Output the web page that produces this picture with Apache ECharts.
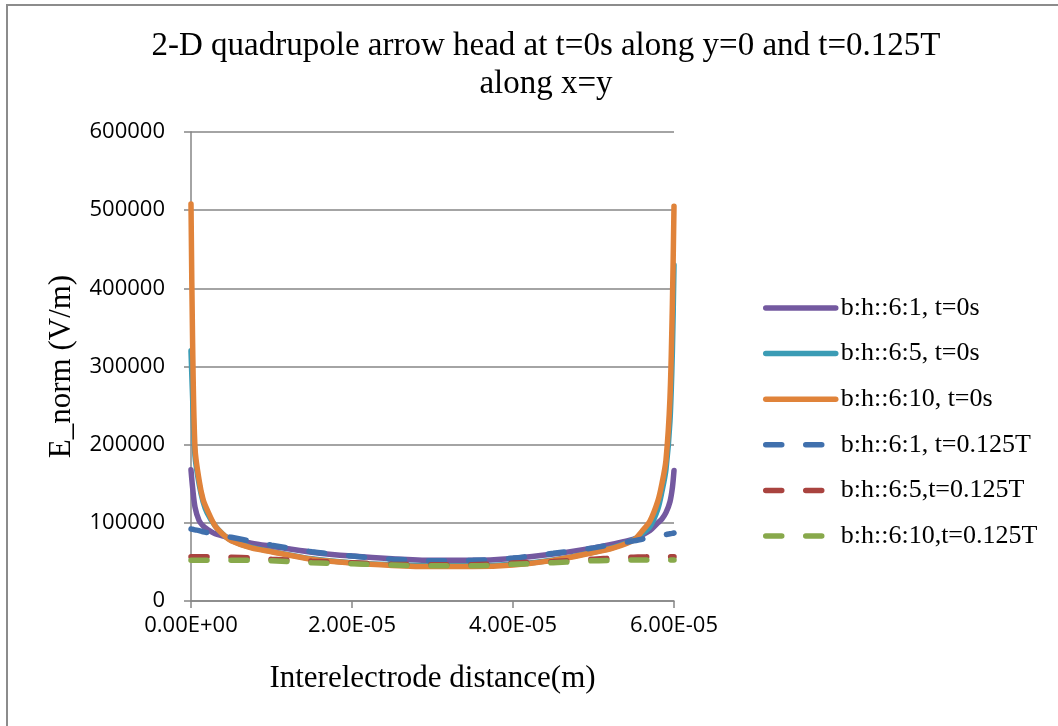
<!DOCTYPE html>
<html>
<head>
<meta charset="utf-8">
<title>2-D quadrupole arrow head</title>
<script src="https://cdn.jsdelivr.net/npm/echarts@6/dist/echarts.min.js"></script>
<style>
  html, body { margin: 0; padding: 0; background: #fff; }
  #chart { width: 1058px; height: 726px; }
</style>
</head>
<body>
<div id="chart"></div>
<script>
// Interelectrode distance (m)
const distance = [0, 2e-7, 5e-7, 1e-6, 1.5e-6, 2e-6, 3e-6, 4e-6, 5e-6, 7.5e-6,
  1e-5, 1.5e-5, 2e-5, 2.5e-5, 3e-5, 3.5e-5, 4e-5, 4.5e-5, 5e-5, 5.25e-5,
  5.5e-5, 5.6e-5, 5.7e-5, 5.8e-5, 5.85e-5, 5.9e-5, 5.95e-5, 5.98e-5, 6e-5];

// E_norm (V/m), t = 0s along y = 0
const e61_t0 = [168000, 145000, 120000, 103000, 96000, 92000, 86000, 83000, 80000, 74000,
  70000, 62500, 57500, 54000, 52000, 52000, 54500, 60000, 68000, 73000,
  79000, 84000, 90000, 100000, 105000, 113000, 127000, 145000, 167000];
const e65_t0 = [320000, 260000, 185000, 150000, 127000, 113000, 96000, 85000, 77500, 68500,
  63500, 54000, 49000, 46500, 45000, 45000, 47000, 52500, 62500, 68500,
  78500, 86000, 95000, 118000, 140000, 168000, 230000, 320000, 430000];
const e610_t0 = [508000, 330000, 195000, 155000, 130000, 117000, 96000, 85000, 77000, 68000,
  63000, 53500, 48500, 45500, 44000, 44000, 46000, 52000, 62000, 68000,
  78000, 89000, 102000, 128000, 150000, 180000, 260000, 380000, 505000];

// E_norm (V/m), t = 0.125T along x = y
const e61_t125 = [92000, 91700, 91000, 90000, 88500, 87500, 86000, 83500, 81500, 76500,
  71500, 63000, 57500, 53500, 51500, 52000, 55000, 61000, 68000, 72500,
  77000, 79000, 81000, 83000, 84000, 85000, 86000, 86500, 87000];
const e65_t125 = [56500, 56500, 56500, 56500, 56500, 56500, 56400, 56300, 56000, 55000,
  53500, 51000, 49000, 47000, 46500, 46500, 48500, 50500, 53500, 55000,
  56000, 56300, 56500, 56500, 56500, 56500, 56500, 56500, 56500];
const e610_t125 = [52000, 52000, 52000, 52000, 52000, 52000, 52000, 52000, 52000, 52000,
  51500, 49000, 47500, 46000, 45000, 45000, 47000, 49000, 51500, 52000,
  52500, 52500, 52500, 52500, 52500, 52500, 52500, 52500, 52500];

const seriesNames = ['b:h::6:1, t=0s', 'b:h::6:5, t=0s', 'b:h::6:10, t=0s',
  'b:h::6:1, t=0.125T', 'b:h::6:5,t=0.125T', 'b:h::6:10,t=0.125T'];
const seriesValues = [e61_t0, e65_t0, e610_t0, e61_t125, e65_t125, e610_t125];
const seriesColors = ['#7459A0', '#3B9CB5', '#E0833A', '#4070AD', '#A9433F', '#88A94B'];
const seriesDashed = [false, false, false, true, true, true];

const xTickLabels = ['0.00E+00', '2.00E-05', '4.00E-05', '6.00E-05'];
const xStep = 2e-5;

const serif = '"Liberation Serif", "Times New Roman", serif';
const sans = '"Open Sans", "Liberation Sans", sans-serif';
const axisGray = '#868686';
const curveWidth = 5.5;

const series = seriesNames.map((name, i) => ({
  name: name,
  type: 'line',
  data: distance.map((x, k) => [x, seriesValues[i][k]]),
  symbol: 'none',
  smooth: 0.3,
  lineStyle: {
    color: seriesColors[i],
    width: curveWidth,
    type: seriesDashed[i] ? [16, 24] : 'solid',
    cap: 'round'
  },
  itemStyle: { color: seriesColors[i] }
}));

const chart = echarts.init(document.getElementById('chart'), null, { renderer: 'canvas' });
chart.setOption({
  animation: false,
  backgroundColor: '#fff',
  title: {
    text: '2-D quadrupole arrow head at t=0s along y=0 and t=0.125T\nalong x=y',
    left: 541,
    top: 22,
    textAlign: 'center',
    textStyle: { fontFamily: serif, fontSize: 33, fontWeight: 'normal', color: '#000', lineHeight: 38 }
  },
  graphic: [{
    type: 'rect',
    shape: { x: 7, y: 5, width: 1100, height: 760 },
    style: { fill: null, stroke: '#8C8C8C', lineWidth: 2 },
    silent: true,
    z: -1
  }],
  legend: {
    orient: 'vertical',
    left: 758,
    top: 290,
    itemWidth: 70,
    itemHeight: 14,
    itemGap: 19.6,
    data: seriesNames,
    lineStyle: { width: curveWidth },
    itemStyle: { opacity: 0 },
    textStyle: { fontFamily: serif, fontSize: 26, color: '#000' }
  },
  grid: { left: 191, right: 384, top: 132, bottom: 125, containLabel: false },
  xAxis: {
    type: 'value',
    min: 0,
    max: 6e-5,
    interval: xStep,
    name: 'Interelectrode distance(m)',
    nameLocation: 'middle',
    nameGap: 62,
    nameTextStyle: { fontFamily: serif, fontSize: 31, color: '#000' },
    axisLine: { lineStyle: { color: axisGray, width: 1.5 } },
    axisTick: { show: true, length: 7, lineStyle: { color: axisGray, width: 1.5 } },
    axisLabel: {
      margin: 14,
      fontFamily: sans,
      fontSize: 22,
      color: '#000',
      formatter: v => xTickLabels[Math.round(v / xStep)]
    },
    splitLine: { show: false }
  },
  yAxis: {
    type: 'value',
    min: 0,
    max: 600000,
    interval: 100000,
    name: 'E_norm (V/m)',
    nameLocation: 'middle',
    nameGap: 114,
    nameTextStyle: { fontFamily: serif, fontSize: 31, color: '#000' },
    axisLine: { show: true, lineStyle: { color: axisGray, width: 1.5 } },
    axisTick: { show: true, length: 7, lineStyle: { color: axisGray, width: 1.5 } },
    axisLabel: { margin: 26, fontFamily: sans, fontSize: 22, color: '#000', formatter: v => String(v) },
    splitLine: { show: true, lineStyle: { color: axisGray, width: 1.5 } }
  },
  series: series
});
</script>
</body>
</html>
